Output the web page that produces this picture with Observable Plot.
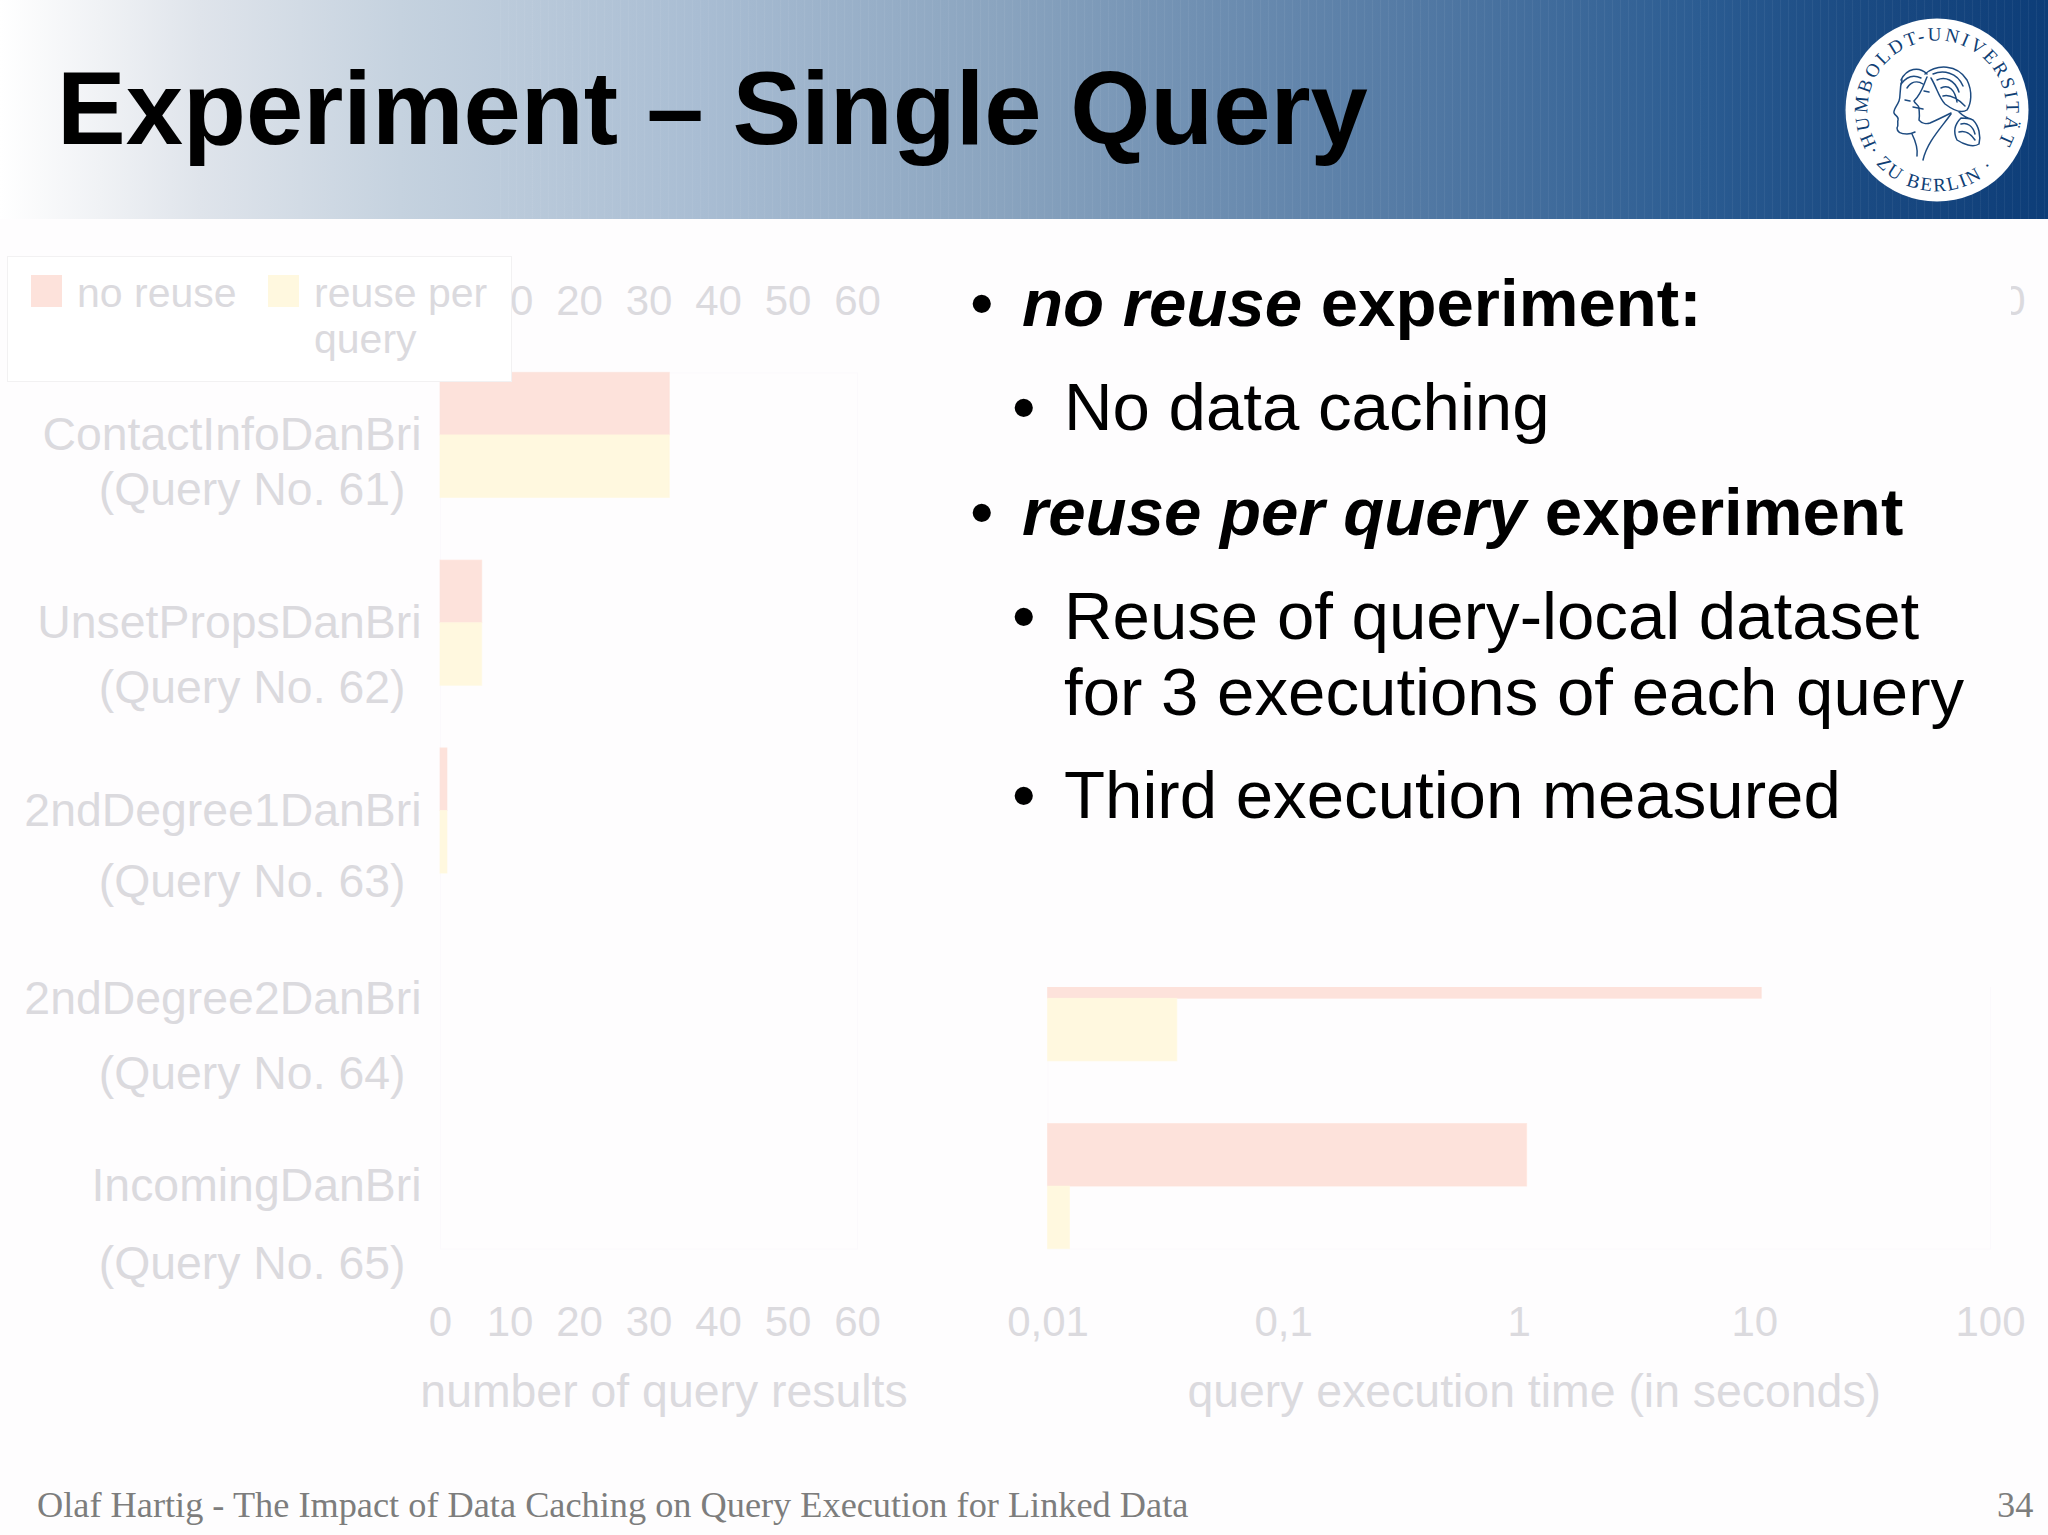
<!DOCTYPE html>
<html><head><meta charset="utf-8">
<script src="https://cdn.jsdelivr.net/npm/d3@7"></script>
<script src="https://cdn.jsdelivr.net/npm/@observablehq/plot@0.6"></script>
<style>
html,body{margin:0;padding:0;background:#fefdfe;}
#slide{position:relative;width:2048px;height:1535px;overflow:hidden;background:#fefdfe;font-family:"Liberation Sans",Arial,sans-serif;}
#header{position:absolute;left:0;top:0;width:2048px;height:219px;
 background:linear-gradient(90deg,#ffffff 0px,#f0f2f5 100px,#dfe4eb 200px,#c5d2df 400px,#a9bdd3 700px,#8aa4bf 1000px,#557ba5 1400px,#2b5c92 1700px,#1b4b83 1850px,#0d3d78 2048px);}
#stripes{position:absolute;left:500px;top:0;width:1548px;height:219px;
 background:repeating-linear-gradient(90deg,rgba(255,255,255,.05) 0 1px,rgba(255,255,255,0) 1px 8px);}
#title{position:absolute;left:57px;top:47px;font-size:103px;line-height:124px;font-weight:bold;color:#000;white-space:nowrap;}
.abs{position:absolute;}
#logo{position:absolute;left:1840px;top:13px;}
#overlay{position:absolute;left:905px;top:236px;width:1106px;height:751px;background:#fefdfe;}
.b{position:absolute;color:#000;font-size:67.2px;line-height:76px;white-space:nowrap;}
#legend{position:absolute;left:7px;top:256px;width:503px;height:124px;background:#fff;border:1px solid #f2f1f2;box-sizing:content-box;color:#dbdade;font-size:41px;}
#legend .sw{position:absolute;width:31px;height:32px;}
#legend .t{position:absolute;line-height:44px;white-space:nowrap;}
#fl{position:absolute;left:37px;top:1483px;font:36.3px/44px "Liberation Serif","Times New Roman",serif;color:#7d7d7d;white-space:nowrap;}
#fr{position:absolute;left:1997px;top:1483px;font:36.3px/44px "Liberation Serif","Times New Roman",serif;color:#7d7d7d;}
svg{overflow:visible;}
</style></head>
<body>
<div id="slide">
 <div id="header"><div id="stripes"></div></div>
 <div id="title">Experiment – Single Query</div>
 <svg id="logo" width="194" height="194" viewBox="-97 -97 194 194">
  <circle r="91.5" fill="#fff"/>
  <defs>
   <path id="arcTop" d="M -60 34.6 A 69.3 69.3 0 1 1 60 34.6"/>
   <path id="arcBot" d="M -70 41 A 81 81 0 0 0 70 41"/>
  </defs>
  <text font-family="Liberation Serif" font-size="19" fill="#0f3e74" letter-spacing="2.6"><textPath href="#arcTop">HUMBOLDT-UNIVERSITÄT</textPath></text>
  <text font-family="Liberation Serif" font-size="19" fill="#0f3e74" letter-spacing="2.2"><textPath href="#arcBot">· ZU BERLIN ·</textPath></text>
  <g fill="none" stroke="#1d4b80" stroke-width="1.5" stroke-linecap="round">
   <path d="M-35 -30 C-38 -20 -36 -14 -38 -9 C-40 -4 -44 0 -43 3 C-42 6 -38 6 -39 10 C-40 13 -38 14 -40 18 C-40 22 -36 24 -30 24 C-27 24 -24 23 -22 22"/>
   <path d="M-25 24 C-21 32 -19 38 -20 46"/>
   <path d="M-36 -30 C-30 -42 -18 -44 -10 -36"/>
   <path d="M-10 -33 C-14 -24 -15 -17 -23 -9 C-22 -6 -18 -5 -18 -2 C-18 2 -17 4 -18 10 C-15 14 -10 14 -7 13 C0 10 8 6 14 3"/>
   <path d="M14 4 C4 18 -10 32 -14 50"/>
   <path d="M-12 -36 C0 -46 20 -46 30 -30 C36 -18 34 -6 30 0 C24 4 16 0 8 -6 C2 -12 0 -22 -6 -32"/>
   <path d="M-4 -36 C6 -40 20 -38 26 -24 M0 -30 C8 -34 18 -30 22 -18 M4 -22 C12 -26 18 -20 20 -8 M6 -14 C14 -16 22 -10 28 -4"/>
   <path d="M22 2 C26 6 30 8 34 9 M24 8 C18 14 16 22 20 30 C26 34 36 38 42 34 C44 26 42 16 36 10 C32 8 28 8 24 8"/>
   <path d="M24 14 C30 12 36 16 38 24 M22 22 C28 20 34 24 38 30"/>
   <path d="M-36 -26 C-30 -34 -24 -36 -16 -32 M-30 -22 C-26 -28 -20 -30 -14 -26"/>
   <path d="M-32 -10 L-27 -9 M-13 -19 L-8 -18 M-14 -1 L-24 -3"/>
  </g>
 </svg>
 <div id="left" class="abs" style="left:0;top:250px"></div>
 <div id="right" class="abs" style="left:900px;top:250px"></div>
 <div id="overlay"></div>
 <div id="legend">
  <div class="sw" style="left:23px;top:18px;background:#fde2db"></div>
  <div class="t" style="left:69px;top:14px">no reuse</div>
  <div class="sw" style="left:260px;top:18px;background:#fff8df"></div>
  <div class="t" style="left:306px;top:14px">reuse per</div>
  <div class="t" style="left:306px;top:60px">query</div>
 </div>
 <div class="b" style="left:970px;top:265px">•</div>
 <div class="b" style="left:1022px;top:265px;font-weight:bold"><i>no reuse</i> experiment:</div>
 <div class="b" style="left:1012px;top:369px">•</div>
 <div class="b" style="left:1064px;top:369px">No data caching</div>
 <div class="b" style="left:970px;top:474px">•</div>
 <div class="b" style="left:1022px;top:474px;font-weight:bold"><i>reuse per query</i> experiment</div>
 <div class="b" style="left:1012px;top:578px">•</div>
 <div class="b" style="left:1064px;top:578px">Reuse of query-local dataset</div>
 <div class="b" style="left:1064px;top:654px">for 3 executions of each query</div>
 <div class="b" style="left:1012px;top:757px">•</div>
 <div class="b" style="left:1064px;top:757px">Third execution measured</div>
 <div id="fl">Olaf Hartig - The Impact of Data Caching on Query Execution for Linked Data</div>
 <div id="fr">34</div>
</div>
<script>
// ---- data ----
const queries = ["ContactInfoDanBri","UnsetPropsDanBri","2ndDegree1DanBri","2ndDegree2DanBri","IncomingDanBri"];
const queryNos = ["(Query No. 61)","(Query No. 62)","(Query No. 63)","(Query No. 64)","(Query No. 65)"];
const seriesNames = ["no reuse","reuse per query"];
const resultsNoReuse = [33,6,1,0,0];
const resultsReuse   = [33,6,1,0,0];
// the first three rows of this panel are hidden behind the text box in the slide
const timeNoReuse = [null,null,null,10.7,1.08];
const timeReuse   = [null,null,null,0.0354,0.0124];
const resultTicks = [0,10,20,30,40,50,60];
const timeTicks = [0.01,0.1,1,10,100];
const timeTickLabels = ["0,01","0,1","1","10","100"];
// only the last label of the right panel's top axis shows past the text box
const timeTopTicks = [100];

// ---- styles ----
const INK = "#dbdade", FRAME = "#fbf9fc", FS = 42, LABEL_FS = 46.4;
const PINK = "#fde2db", YELLOW = "#fff8df";
// drift of the second label line as it appears in the slide
const secondLineDy = [55,65,71,75,78];

const table = (s0,s1) => queries.flatMap((q,i)=>[
  {q, s:seriesNames[0], v:s0[i]},
  {q, s:seriesNames[1], v:s1[i]}
]);
const color = {domain:seriesNames, range:[PINK,YELLOW]};
const fyOpts = {domain:queries, paddingInner:0.3333, paddingOuter:0.1667, round:false, label:null, axis:null};
const yOpts = {domain:seriesNames, padding:0, round:false, axis:null};

const axes = (ticks, topTicks, fmt, label) => [
  Plot.axisX({anchor:"top", facetAnchor:"top", ticks:topTicks, tickFormat:fmt, tickSize:0, tickPadding:57.5, label:null, fontSize:FS, color:INK, stroke:"none"}),
  Plot.axisX({anchor:"bottom", facetAnchor:"bottom", ticks, tickFormat:fmt, tickSize:0, tickPadding:57, label:null, fontSize:FS, color:INK, stroke:"none"}),
  Plot.text([label],{fy:()=>queries[4], frameAnchor:"bottom", lineAnchor:"middle", dx:15, dy:143, fontSize:LABEL_FS, fill:INK, text:d=>d})
];
const common = {
  height:1180, marginTop:91, marginBottom:150,
  style:{background:"transparent", fontFamily:"'Liberation Sans',Arial,sans-serif", fontSize:FS+"px", color:INK, overflow:"visible"},
  fy:fyOpts, y:yOpts, color
};

const left = Plot.plot({...common,
  width:900, marginLeft:440, marginRight:43,
  x:{domain:[0,60], label:null},
  marks:[
    Plot.frame({facet:"super", stroke:FRAME}),
    Plot.barX(table(resultsNoReuse,resultsReuse),{fy:"q", y:"s", x1:()=>0, x2:"v", fill:"s", stroke:"s", strokeOpacity:.6, strokeWidth:1}),
    ...axes(resultTicks, resultTicks, d=>String(d), "number of query results"),
    Plot.axisFy({anchor:"left", tickSize:0, tickPadding:19, label:null, fontSize:LABEL_FS, color:INK, stroke:"none"}),
    ...queries.map((q,i)=>Plot.text([queryNos[i]],{fy:()=>q, x:()=>0, frameAnchor:"middle", text:d=>d, textAnchor:"end", dx:-35, dy:secondLineDy[i], fontSize:LABEL_FS, fill:INK}))
  ]
});
document.getElementById("left").append(left);

const right = Plot.plot({...common,
  width:1148, marginLeft:147.5, marginRight:58,
  x:{type:"log", domain:[0.01,100], label:null},
  marks:[
    Plot.frame({facet:"super", stroke:FRAME}),
    Plot.barX(table(timeNoReuse,timeReuse),{fy:"q", y:"s", x1:()=>timeTicks[0], x2:"v", fill:"s", stroke:"s", strokeOpacity:.6, strokeWidth:1, filter:d=>d.v!=null}),
    Plot.text(queries,{fy:d=>d, text:()=>"", frameAnchor:"middle"}),
    ...axes(timeTicks, timeTopTicks, d=>timeTickLabels[timeTicks.indexOf(d)], "query execution time (in seconds)")
  ]
});
document.getElementById("right").append(right);
</script>
</body></html>
